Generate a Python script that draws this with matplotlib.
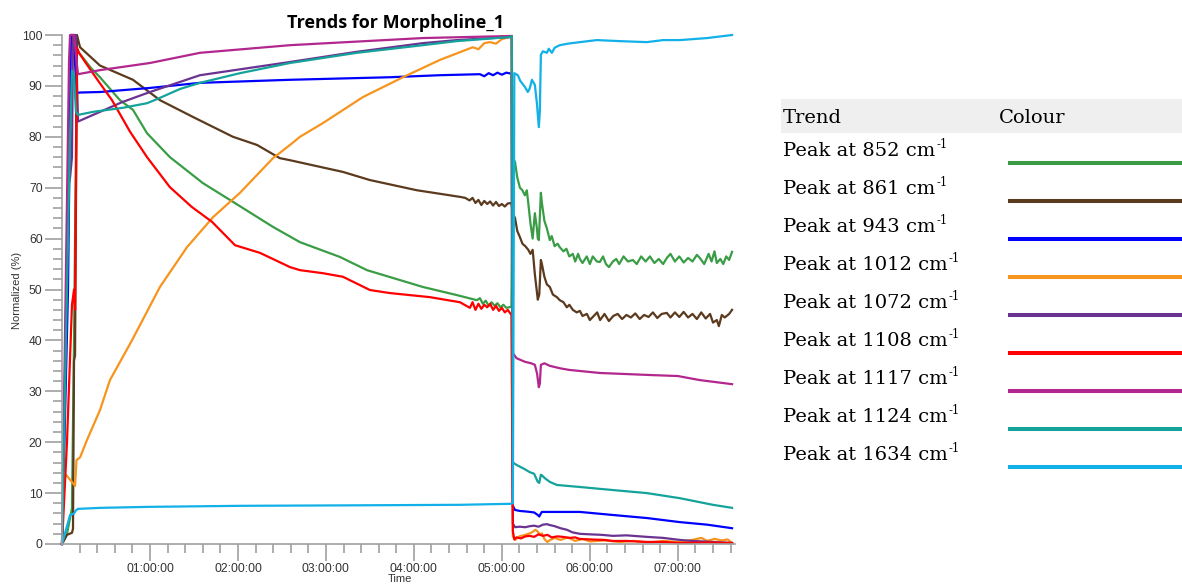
import matplotlib
matplotlib.use("Agg")
import matplotlib.pyplot as plt
from matplotlib.lines import Line2D
from matplotlib.patches import Rectangle
from matplotlib.ticker import FixedLocator, MultipleLocator, FuncFormatter

# Time axis in minutes from the start of the run, values are normalized %.
wavenumbers = [852, 861, 943, 1012, 1072, 1108, 1117, 1124, 1634]
colors = ["#3a9d46", "#5b3a1e", "#0000ff", "#f7941d", "#6b3391",
          "#ff0000", "#b2278d", "#14a39a", "#12b0e8"]

t852 = [0, 3.4, 6.8, 8.2, 10.2, 11.6, 19.8, 25.9, 39.5, 48.4, 58.0, 73.6, 96.1, 114.5, 143.9,
        162.3, 189.5, 208.0, 246.1, 269.3, 283, 285, 287, 289, 291, 293, 295, 297, 299, 301,
        303, 306.5,
        307.5, 309, 310.5, 312.3, 314, 315.7, 317, 318, 319.5, 321, 322.5, 323.9, 324.5, 325.2,
        326.6, 327.3, 329, 330.7, 332.7, 334, 336, 338, 339.5, 342, 344, 346, 348.4, 350, 352,
        353.2, 355, 357.9, 360, 362, 364.8, 366.8, 369, 371, 373, 375.7, 378, 380, 383, 386,
        389.3, 392, 395, 398, 401, 404, 407, 410, 412.5, 415, 418, 421, 424, 427, 430, 433,
        435, 438, 441, 443, 445, 446.6, 449, 451, 453, 455, 457]
v852 = [0, 2, 7, 40, 97, 96.5, 93.5, 91.7, 87.2, 85.3, 80.7, 76, 70.9, 67.6, 62.3,
        59.3, 56.4, 53.8, 50.5, 48.9, 47.9, 48.3, 47.2, 47.8, 46.8, 47.5, 46.8, 47.3, 46.5, 47,
        46.4, 46.6,
        76, 75, 72, 70, 69.5, 68.5, 69.5, 67, 63, 60, 65, 62, 60, 59.7,
        69, 67, 63.5, 62, 59.7, 60.5, 58.5, 59, 58.3, 57.5, 58, 56.5, 57, 55.5, 57,
        56, 55.2, 56.5, 55, 56.5, 55.5, 55.4, 56.5, 55, 54.4, 55.5, 56, 55, 56.5, 55.5,
        55.8, 55, 56.5, 55.5, 56.5, 55.2, 56, 55, 56.2, 57, 55.5, 56.5, 55.3, 56.2, 55.5, 56.8,
        56.2, 55, 57, 55.5, 57.5, 55.2, 56, 55, 56.5, 55.8, 57.4]

t861 = [0, 3.4, 6.8, 7.5, 8.2, 8.9, 10.2, 12.3, 25.9, 48.4, 66.8, 89.3, 116.6, 133.0, 148.6,
        155.5, 191.6, 210.0, 242.0, 271.4, 275, 278, 280, 282, 284, 286, 288, 290, 292, 294,
        296, 298, 300, 302, 304, 306.5,
        307.5, 309, 310.5, 312.3, 314, 316, 318, 319.5, 321, 322.5, 324.5, 325.5, 326.6, 327.3,
        329, 330.7, 332.7, 334.8, 337.5, 339.5, 342, 344.3, 346, 348.4, 351, 353.2, 355, 358,
        360, 362, 365, 367, 370, 373, 376, 379, 382, 385, 388, 391, 394, 397, 400, 403, 406,
        409, 412.5, 415, 418, 421, 424, 427, 430, 433, 436, 439, 442, 444, 446.6, 448, 450,
        452, 455, 457]
v861 = [0, 1.8, 2.2, 3, 36, 37, 100, 97.6, 94, 91.2, 87.2, 83.9, 80, 78.4, 75.8,
        75.4, 73.1, 71.5, 69.5, 68.2, 68, 67.5, 68, 67, 67.6, 66.6, 67.4, 66.8, 67.3, 66.5,
        67.2, 66.4, 66.8, 66.3, 66.9, 67,
        65, 64, 61.5, 60.3, 59, 58.5, 57.8, 57, 57.8, 53, 48, 49, 55.8, 55,
        52.5, 51, 50.5, 49, 48.5, 47.9, 47.5, 46.5, 47, 46, 45.5, 45.8, 44.8, 45.2,
        44, 44.6, 45.5, 44, 45.2, 43.8, 44.8, 45.2, 44.2, 45, 44.5, 45.3, 44.2, 45, 44.6, 45.5, 44.4,
        45.2, 45.4, 44.5, 45.5, 44.6, 45.6, 44.5, 45.2, 44.2, 45.5, 44.3, 45.2, 43.5, 44, 42.8, 45,
        44.5, 45.2, 46]

t943 = [0, 4.1, 6.1, 7.5, 8.9, 9.9, 12.3, 25.9, 60.0, 94.1, 155.5, 223.6, 257.7, 285, 288,
        291, 294, 297, 300, 303, 306.5,
        307.5, 308.9, 312, 316, 319.1, 322, 324.5, 325.5, 326.6, 327.3, 335, 353.2, 375.7,
        398.9, 421.4, 440, 457]
v943 = [0, 50, 100, 100, 94.5, 88.6, 88.7, 88.8, 89.6, 90.6, 91.2, 91.7, 92.1, 92.3, 91.9,
        92.5, 92.1, 92.6, 92.2, 92.6, 92.4,
        7.5, 6.7, 6.5, 6.4, 6.3, 6.2, 5.7, 5.4, 6.0, 6.3, 6.3, 6.3, 5.7,
        5.1, 4.3, 3.8, 3.1]

t1012 = [0, 6.8, 8.9, 9.9, 12.3, 17.0, 25.9, 32.7, 47.7, 66.8, 85.2, 103.0, 121.4, 143.9,
         155.5, 162.3, 178.0, 205.2, 232.5, 257.7, 280.2, 284, 288, 291.8, 296, 300, 305.5, 306.5,
         307.5, 309, 312, 316, 320, 323, 324.5, 326, 327.3, 329, 331, 333, 336, 340, 345, 350,
         355, 360, 370, 380, 390, 400, 410, 420, 430, 436, 440, 445, 450, 454, 457]
v1012 = [14.5, 12.2, 11.4, 16.5, 17, 20.4, 26.3, 32.2, 40, 50.5, 58.3, 64.2, 69, 75.8,
         78.4, 80, 82.7, 87.8, 91.7, 95.1, 97.6, 97.2, 98.4, 98.6, 98.3, 99.2, 99.6, 99.8,
         1.5, 0.8, 1.5, 1.8, 2.2, 2.8, 2.4, 1.8, 2.1, 1, 0.4, 0.8, 1.2, 0.8, 1.3, 0.6,
         1, 0.5, 0.7, 0.4, 0.6, 0.3, 0.6, 0.4, 0.8, 1.2, 0.6, 1, 0.7, 0.9, 0.2]

t1072 = [0, 0.7, 4.1, 5.5, 6.8, 7.5, 9.5, 10.9, 40.9, 60.0, 94.1, 155.5, 201.1, 246.1, 269.3,
         305.5, 306.8,
         307.5, 309, 312, 316, 319, 322, 325, 328, 330.7, 333, 336, 340, 344.3, 348, 353.2,
         360, 368, 375.7, 385, 398.9, 410, 421.4, 430, 443.9, 457]
v1072 = [0, 10, 70, 72, 76, 100, 100, 83, 86.8, 88.8, 92.1, 94.7, 96.7, 98.4, 99,
         99.6, 99.8,
         4, 3.3, 3.4, 3.3, 3.5, 3.6, 3.4, 3.8, 3.9, 3.7, 3.5, 3.1, 2.8, 2.3, 2.0,
         1.9, 1.8, 1.6, 1.7, 1.4, 1.2, 0.8, 0.6, 0.4, 0.2]

t1108 = [0, 3.4, 6.8, 8.2, 8.9, 10.2, 11.6, 19.8, 25.9, 34.1, 46.4, 58.0, 73.6, 88.6, 102.3,
         118.0, 135.0, 155.5, 162.3, 178.0, 191.6, 210.0, 223.6, 250.9, 271.4, 278.2, 280, 282,
         284, 286, 288, 290, 292, 294, 296, 298, 300, 302, 304, 306.5,
         307.5, 308.5, 310, 313, 316, 319, 322, 325, 328, 331, 334, 338, 341.6, 346, 350, 353,
         360, 370, 375.7, 385, 398.9, 410, 421.4, 440, 457]
v1108 = [0, 20, 47, 50, 46, 97.5, 96.5, 93, 90.5, 87.2, 81, 76, 70.1, 66.2, 63.3,
         58.7, 57.2, 54.4, 53.8, 53.2, 52.5, 49.9, 49.3, 48.5, 47.5, 46.4, 47.5, 46,
         47.2, 46.2, 47, 46.5, 47.2, 46, 46.8, 45.8, 46.4, 45.5, 46, 45,
         2.5, 0.9, 1.3, 1.1, 1.5, 1.6, 1.4, 1.9, 1.6, 1.8, 1.3, 1.5, 1.4, 1.2, 1.3, 1,
         0.9, 0.8, 0.6, 0.6, 0.4, 0.4, 0.2, 0.3, 0.2]

t1117 = [0, 2.0, 4.8, 5.5, 8.2, 9.5, 10.9, 25.9, 60.0, 94.1, 155.5, 246.1, 305.5, 306.8,
         307.5, 310, 315.7, 320, 322.5, 324, 325.2, 325.9, 326.6, 329, 332.7, 340, 346, 366.8,
         400.9, 420, 435, 457]
v1117 = [0, 40, 95, 100, 100, 96, 92.3, 93.1, 94.5, 96.5, 98, 99.4, 99.8, 99.8,
         37.5, 36.5, 35.8, 35.5, 35.2, 33.5, 30.8, 31.5, 35.2, 35.5, 35, 34.5, 34.2, 33.6,
         33.2, 33, 32.2, 31.4]

t1124 = [0, 2.0, 5.5, 6.8, 8.2, 9.5, 10.9, 21.1, 41.6, 58.0, 64.8, 80.5, 94.1, 121.4, 155.5,
         201.1, 246.1, 269.3, 305.5, 306.8,
         307.5, 310.2, 315, 319.1, 322, 324.5, 325.5, 326.6, 327.3, 329, 332.7, 337.5, 353.2,
         375.7, 398.9, 421.4, 443.9, 457]
v1124 = [0, 30, 80, 93, 92, 85, 84.3, 84.9, 85.7, 86.6, 87.4, 89.4, 90.6, 92.5, 94.5,
         96.5, 98, 98.8, 99.6, 99.8,
         16, 15.5, 14.8, 14.1, 13.8, 12.2, 12.0, 13.6, 13.5, 13, 12.2, 11.6, 11.2,
         10.6, 10, 9, 7.7, 7.1]

t1634 = [0, 5.5, 8.2, 9.5, 10.9, 25.9, 60.0, 121.4, 201.1, 271.4, 306.5,
         307.5, 308.5, 310.9, 312.5, 315.7, 317.7, 319, 320.5, 322.5, 323.9, 325.2, 325.9,
         326.6, 328, 330.7, 332, 334.1, 336, 339.5, 345, 353.2, 364.8, 380, 398.9, 410, 421.4,
         440, 457]
v1634 = [0, 5.7, 6.0, 6.6, 6.9, 7.1, 7.3, 7.5, 7.6, 7.7, 7.9,
         8, 92.5, 92.1, 91, 89.8, 88.8, 89.5, 91.2, 90.2, 86.6, 81.9, 85,
         96.1, 96.8, 96.5, 97.3, 96.5, 97.5, 98, 98.3, 98.6, 99, 98.8, 98.6, 99, 99,
         99.4, 100]

series = [(t852, v852), (t861, v861), (t943, v943), (t1012, v1012), (t1072, v1072),
          (t1108, v1108), (t1117, v1117), (t1124, v1124), (t1634, v1634)]

W, H = 1182, 585
fig = plt.figure(figsize=(W / 100, H / 100), dpi=100)
ax = fig.add_axes([62 / W, 41 / H, (735 - 62) / W, (544 - 35) / H])

for (t, v), c in zip(series, colors):
    ax.plot(t, v, color=c, lw=1.6, clip_on=False, solid_joinstyle="round")

ax.set_xlim(0, 459)
ax.set_ylim(0, 100)
for side in ("top", "right"):
    ax.spines[side].set_visible(False)
for side in ("left", "bottom"):
    ax.spines[side].set_color("#a0a0a0")
    ax.spines[side].set_linewidth(1.2)

ax.xaxis.set_major_locator(FixedLocator(range(60, 421, 60)))
ax.xaxis.set_minor_locator(FixedLocator(range(12, 459, 12)))
ax.xaxis.set_major_formatter(FuncFormatter(lambda m, p: f"{int(m // 60):02d}:{int(m % 60):02d}:00"))
ax.yaxis.set_major_locator(MultipleLocator(10))
ax.yaxis.set_minor_locator(MultipleLocator(2))
ax.tick_params(which="major", length=12, width=1.2, color="#a0a0a0", labelsize=8.7,
               labelcolor="#333333", pad=2, labelfontfamily="Liberation Sans")
ax.tick_params(which="minor", length=6.5, width=1.2, color="#a0a0a0")

fig.text(396 / W, 1 - 28 / H, "Trends for Morpholine_1", ha="center", va="baseline",
         fontsize=13, fontweight="bold", family="Open Sans")
fig.text(17 / W, 1 - 290 / H, "Normalized (%)", rotation=90, ha="center", va="center",
         fontsize=8, family="Liberation Sans", color="#333333")
fig.text(400 / W, 1 - 584 / H, "Time", ha="center", va="bottom",
         fontsize=8, family="Liberation Sans", color="#333333")

# legend table on the right
fig.add_artist(Rectangle((781 / W, 1 - 133 / H), (W - 781) / W, 34 / H,
                         transform=fig.transFigure, color="#efefef", lw=0))
serif = "DejaVu Serif"
fs = 14
fig.text(783 / W, 1 - 123 / H, "Trend", family=serif, fontsize=fs, va="baseline")
fig.text(999 / W, 1 - 123 / H, "Colour", family=serif, fontsize=fs, va="baseline")

renderer = fig.canvas.get_renderer()
for i, (wn, c) in enumerate(zip(wavenumbers, colors)):
    base = 156 + 38 * i
    txt = fig.text(783 / W, 1 - base / H, f"Peak at {wn} cm", family=serif, fontsize=fs,
                   va="baseline")
    x1 = txt.get_window_extent(renderer).x1
    fig.text((x1 + 1) / W, 1 - (base - 8) / H, "-1", family=serif, fontsize=fs * 0.6,
             va="baseline")
    ly = 1 - (162.7 + 38 * i) / H
    fig.add_artist(Line2D([1008 / W, 1.0], [ly, ly], transform=fig.transFigure,
                          color=c, lw=2.9, solid_capstyle="butt"))

fig.savefig("out.png", dpi=100)
